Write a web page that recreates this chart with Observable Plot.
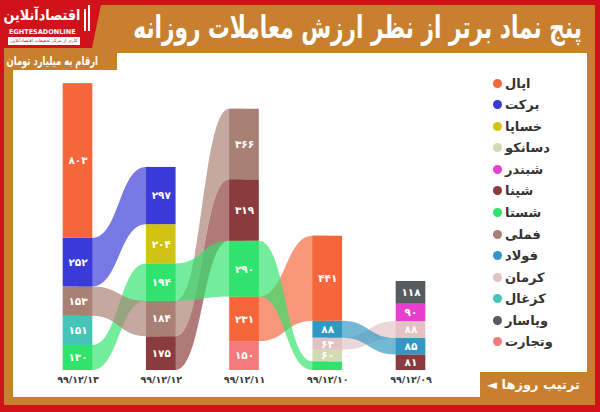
<!DOCTYPE html>
<html>
<head>
<meta charset="utf-8">
<script src="https://cdn.jsdelivr.net/npm/d3@7"></script>
<script src="https://cdn.jsdelivr.net/npm/@observablehq/plot@0.6"></script>
<style>
  body { margin: 0; background: #fff; }
  #frame { position: relative; width: 600px; height: 412px; background: #d0121b; overflow: hidden; font-family: "DejaVu Sans", sans-serif; }
  .abs { position: absolute; }
  #brown { left: 4px; top: 5px; right: 5px; bottom: 7px; background: #c8802f; }
  #white { left: 13px; top: 53px; width: 574px; height: 344px; background: #fff; }
  #logo { left: 0; top: 0; width: 102px; height: 48px; background: #d0121b; clip-path: polygon(0 0, 102px 0, 92px 48px, 0 48px); }
  #title { right: 18px; top: 7px; color: #fff; font-weight: bold; font-size: 31px; direction: rtl; white-space: nowrap; line-height: 40px; transform: scaleX(0.7); transform-origin: right center; }
  #unit { left: 13px; top: 53px; width: 104px; height: 17px; background: #c8802f; color: #fff; font-weight: bold; font-size: 12px; direction: rtl; text-align: center; line-height: 16px; white-space: nowrap; }
  #unit span { display: inline-block; transform: scaleX(0.7); }
  #order { left: 480px; top: 372px; width: 107px; height: 25px; background: #c8802f; color: #fff; font-weight: bold; font-size: 13px; direction: rtl; text-align: center; line-height: 25px; white-space: nowrap; }
  #chart { left: 13px; top: 53px; }
  .leg { position: absolute; display: flex; align-items: center; font-size: 13px; font-weight: bold; color: #333; white-space: nowrap; }
  .dot { width: 9px; height: 9px; border-radius: 50%; margin-right: 3px; }
</style>
</head>
<body>
<div id="frame">
  <div id="brown" class="abs"></div>
  <div id="white" class="abs"></div>
  <div id="logo" class="abs">
    <div class="abs" style="right:22px;top:6px;color:#fff;font-weight:bold;font-size:15px;direction:rtl;white-space:nowrap;transform:scaleX(0.85);transform-origin:right center;">اقتصادآنلاین</div>
    <div class="abs" style="left:9px;top:28px;color:#fff;font-weight:bold;font-size:6.5px;white-space:nowrap;">EGHTESADONLINE</div>
    <div class="abs" style="left:8px;top:37px;width:72px;height:8px;background:#fff;color:#d0121b;line-height:8px;font-size:4.6px;text-align:center;white-space:nowrap;direction:rtl;">کاری از مرکز تحقیقات اقتصادآنلاین</div>
    <div class="abs" style="left:84px;top:9px;width:2px;height:22px;background:#fff;"></div>
    <div class="abs" style="left:88px;top:5px;width:2px;height:26px;background:#fff;"></div>
  </div>
  <div id="title" class="abs">پنج نماد برتر از نظر ارزش معاملات روزانه</div>
  <div id="chart" class="abs"></div>
  <div id="unit" class="abs"><span>ارقام به میلیارد تومان</span></div>
  <div id="legend"></div>
  <div id="order" class="abs">ترتیب روزها ◄</div>
</div>
<script>
// ---- data ----
const dates = ["99/12/13", "99/12/12", "99/12/11", "99/12/10", "99/12/09"];
const symbols = ["اپال","برکت","خساپا","دسانکو","شبندر","شپنا","شستا","فملی","فولاد","کرمان","کزغال","وپاسار","وتجارت"];
const colors  = ["#f5663a","#3a3ad8","#d1c214","#d2dbb3","#e93fd0","#8a3b3d","#30e36c","#a98074","#3198c3","#e2c2c5","#44c5b7","#555c60","#f47a7d"];
// stacked bottom -> top for each day
const day13Symbols = ["شستا","کزغال","فملی","برکت","اپال"];
const day13Values  = [130, 151, 153, 252, 803];
const day12Symbols = ["شپنا","فملی","شستا","خساپا","برکت"];
const day12Values  = [175, 184, 194, 204, 297];
const day11Symbols = ["وتجارت","اپال","شستا","شپنا","فملی"];
const day11Values  = [150, 231, 290, 319, 366];
const day10Symbols = ["شستا","دسانکو","کرمان","فولاد","اپال"];
const day10Values  = [45, 60, 63, 88, 441];
const day09Symbols = ["شپنا","فولاد","کرمان","شبندر","وپاسار"];
const day09Values  = [81, 85, 88, 90, 118];

const daySymbols = [day13Symbols, day12Symbols, day11Symbols, day10Symbols, day09Symbols];
const dayValues  = [day13Values, day12Values, day11Values, day10Values, day09Values];

const fa = s => String(s).replace(/\d/g, d => "۰۱۲۳۴۵۶۷۸۹"[d]);

// ---- build stacked segments ----
const hw = 0.178; // bar half width in day units
const segments = [];
daySymbols.forEach((syms, i) => {
  let acc = 0;
  syms.forEach((s, j) => {
    const v = dayValues[i][j];
    segments.push({day: i, symbol: s, value: v, y1: acc, y2: acc + v, xa: i - hw, xb: i + hw});
    acc += v;
  });
});

// ---- ribbons between consecutive days ----
const ribbons = [];
for (let i = 0; i < daySymbols.length - 1; i++) {
  for (const a of segments.filter(d => d.day === i)) {
    const b = segments.find(d => d.day === i + 1 && d.symbol === a.symbol);
    if (!b) continue;
    const id = a.symbol + "-" + i;
    ribbons.push({id, symbol: a.symbol, x: i, y1: a.y1, y2: a.y2});
    ribbons.push({id, symbol: a.symbol, x: i + hw, y1: a.y1, y2: a.y2});
    ribbons.push({id, symbol: a.symbol, x: i + 1 - hw, y1: b.y1, y2: b.y2});
    ribbons.push({id, symbol: a.symbol, x: i + 1, y1: b.y1, y2: b.y2});
  }
}

const chart = Plot.plot({
  width: 574,
  height: 344,
  marginLeft: 64.5,
  marginRight: 176.5,
  marginTop: 28,
  marginBottom: 27,
  x: {domain: [0, 4], axis: null},
  y: {domain: [0, 1500], axis: null},
  color: {domain: symbols, range: colors},
  style: {background: "transparent", fontFamily: "DejaVu Sans, sans-serif"},
  marks: [
    Plot.area(ribbons, {x1: "x", y1: "y1", y2: "y2", z: "id", fill: "symbol", fillOpacity: 0.68, curve: "bump-x"}),
    Plot.rect(segments, {x1: "xa", x2: "xb", y1: "y1", y2: "y2", fill: "symbol"}),
    Plot.text(segments.filter(d => d.value >= 50), {
      x: "day", y: d => (d.y1 + d.y2) / 2, text: d => fa(d.value),
      fill: "white", fontWeight: "bold", fontSize: 10.5
    }),
    Plot.text(dates, {
      x: (d, i) => i, y: 0, dy: 9, text: d => fa(d),
      fill: "#3a3a3a", fontWeight: "bold", fontSize: 9.5
    })
  ]
});
document.getElementById("chart").appendChild(chart);

// ---- legend ----
const legend = document.getElementById("legend");
symbols.forEach((s, i) => {
  const row = document.createElement("div");
  row.className = "leg";
  row.style.left = "493px";
  row.style.top = (83.3 + i * 21.53 - 9) + "px";
  row.style.height = "18px";
  row.innerHTML = `<span class="dot" style="background:${colors[i]}"></span><span>${s}</span>`;
  legend.appendChild(row);
});
</script>
</body>
</html>
